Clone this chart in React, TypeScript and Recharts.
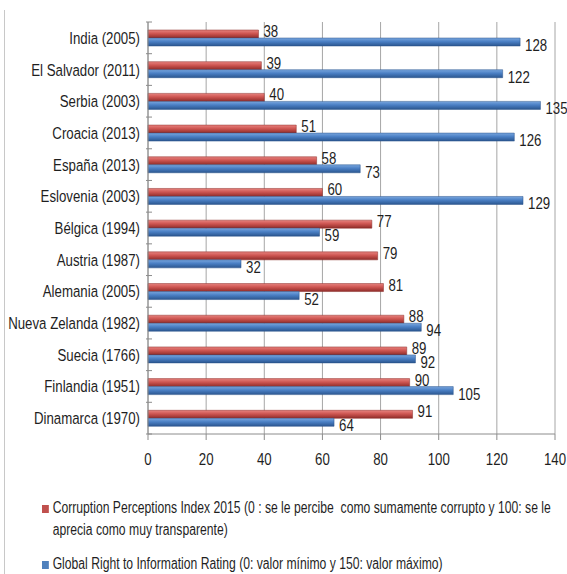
import React from "react";
import { Bar, BarChart, CartesianGrid, LabelList, XAxis, YAxis } from "recharts";

const countries = [
  "India (2005)",
  "El Salvador (2011)",
  "Serbia (2003)",
  "Croacia (2013)",
  "España (2013)",
  "Eslovenia (2003)",
  "Bélgica (1994)",
  "Austria (1987)",
  "Alemania (2005)",
  "Nueva Zelanda (1982)",
  "Suecia (1766)",
  "Finlandia (1951)",
  "Dinamarca (1970)",
];
const cpi = [38, 39, 40, 51, 58, 60, 77, 79, 81, 88, 89, 90, 91];
const rti = [128, 122, 135, 126, 73, 129, 59, 32, 52, 94, 92, 105, 64];
const xTicks = [0, 20, 40, 60, 80, 100, 120, 140];

const cpiName =
  "Corruption Perceptions Index 2015 (0 : se le percibe  como sumamente corrupto y 100: se le aprecia como muy transparente)";
const rtiName = "Global Right to Information Rating (0: valor mínimo y 150: valor máximo)";

const FONT = '"Liberation Sans", Arial, sans-serif';
const SQUEEZE = 0.78;
const LEGEND_SQUEEZE = 0.76;
const TEXT = "#1f1f1f";
const AXIS = "#8c8c8c";

const data = countries.map((name, i) => ({ name, cpi: cpi[i], rti: rti[i] }));

const CHART_H = 474;
const TOP = 22;
const BOTTOM = 40;
const BAND = (CHART_H - TOP - BOTTOM) / countries.length;

// narrow text, like the condensed font of the original
function Narrow({ x, y, anchor, children }: any) {
  return (
    <text
      transform={`translate(${x},${y}) scale(${SQUEEZE},1)`}
      textAnchor={anchor}
      fontSize={17}
      fill={TEXT}
      fontFamily={FONT}
    >
      {children}
    </text>
  );
}

function CountryTick(props: any) {
  const { x, y, payload, index } = props;
  const last = index === countries.length - 1;
  return (
    <g>
      <line x1={x + 6} x2={x + 12} y1={y - BAND / 2} y2={y - BAND / 2} stroke={AXIS} />
      {last && <line x1={x + 6} x2={x + 12} y1={y + BAND / 2} y2={y + BAND / 2} stroke={AXIS} />}
      <Narrow x={x} y={y + 6} anchor="end">
        {payload.value}
      </Narrow>
    </g>
  );
}

function NumberTick(props: any) {
  const { x, y, payload } = props;
  return (
    <Narrow x={x} y={y + 15} anchor="middle">
      {payload.value}
    </Narrow>
  );
}

const valueLabel = (dy: number) => (props: any) => {
  const { x, y, width, height, value } = props;
  return (
    <Narrow x={x + width + 5} y={y + height / 2 + 6 + dy} anchor="start">
      {value}
    </Narrow>
  );
};

export default function App() {
  return (
    <div
      style={{
        position: "absolute",
        left: 0,
        top: 0,
        width: 567,
        height: 574,
        background: "#fff",
        fontFamily: FONT,
        overflow: "hidden",
      }}
    >
      <div style={{ position: "absolute", left: 4, top: 10, bottom: 0, borderLeft: "1px solid #c8c8c8" }} />
      <BarChart
        width={567}
        height={CHART_H}
        data={data}
        layout="vertical"
        margin={{ top: TOP, right: 12, left: 0, bottom: 6 }}
        barSize={8}
        barGap={0}
      >
        <defs>
          <linearGradient id="redGrad" x1="0" y1="0" x2="0" y2="1">
            <stop offset="0%" stopColor="#e8837f" />
            <stop offset="45%" stopColor="#cd5551" />
            <stop offset="100%" stopColor="#8f2c29" />
          </linearGradient>
          <linearGradient id="blueGrad" x1="0" y1="0" x2="0" y2="1">
            <stop offset="0%" stopColor="#79a6de" />
            <stop offset="45%" stopColor="#4a7fc4" />
            <stop offset="100%" stopColor="#2b568f" />
          </linearGradient>
        </defs>
        <CartesianGrid horizontal={false} stroke="#a6a6a6" />
        <XAxis
          type="number"
          domain={[0, 140]}
          ticks={xTicks}
          height={34}
          stroke={AXIS}
          tickSize={6}
          tickMargin={10}
          tick={<NumberTick />}
        />
        <YAxis
          type="category"
          dataKey="name"
          width={148}
          stroke={AXIS}
          tickLine={false}
          tick={<CountryTick />}
          interval={0}
        />
        <Bar dataKey="cpi" name={cpiName} fill="url(#redGrad)" stroke="#8a2a27" strokeWidth={0.5} isAnimationActive={false}>
          <LabelList dataKey="cpi" content={valueLabel(-3)} />
        </Bar>
        <Bar dataKey="rti" name={rtiName} fill="url(#blueGrad)" stroke="#28528a" strokeWidth={0.5} isAnimationActive={false}>
          <LabelList dataKey="rti" content={valueLabel(3)} />
        </Bar>
      </BarChart>
      <div
        style={{
          position: "absolute",
          left: 42,
          top: 497,
          width: 515 / LEGEND_SQUEEZE,
          fontSize: 16,
          color: TEXT,
          lineHeight: "22px",
          transform: `scaleX(${LEGEND_SQUEEZE})`,
          transformOrigin: "0 0",
        }}
      >
        <div style={{ display: "flex" }}>
          <span style={{ width: 9, height: 8, background: "#c0504d", marginTop: 8, marginRight: 5, flexShrink: 0 }} />
          <span style={{ whiteSpace: "pre-wrap" }}>{cpiName}</span>
        </div>
        <div style={{ display: "flex", marginTop: 12 }}>
          <span style={{ width: 9, height: 8, background: "#4f81bd", marginTop: 8, marginRight: 5, flexShrink: 0 }} />
          <span>{rtiName}</span>
        </div>
      </div>
    </div>
  );
}
